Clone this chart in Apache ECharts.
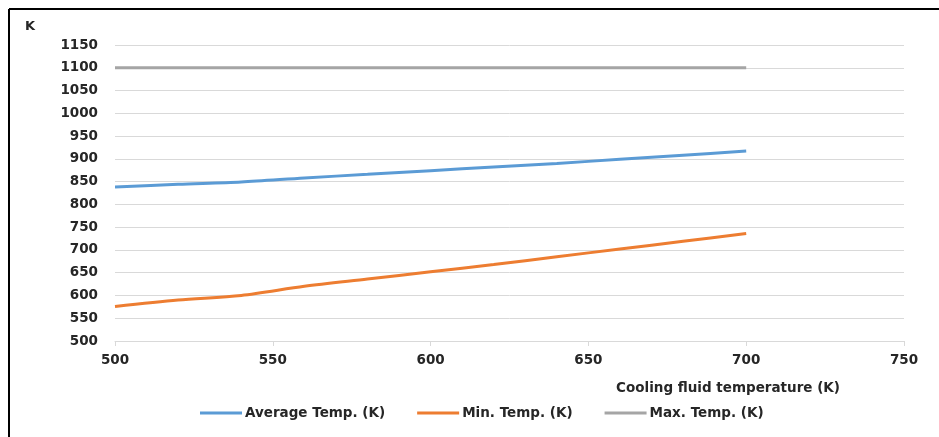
<!DOCTYPE html>
<html>
<head>
<meta charset="utf-8">
<script src="https://cdn.jsdelivr.net/npm/echarts@6/dist/echarts.min.js"></script>
<style>
html,body{margin:0;padding:0;background:#fff;}
#chart{width:939px;height:437px;}
</style>
</head>
<body>
<div id="chart"></div>
<script>
const xValues = [500, 520, 540, 560, 580, 600, 620, 640, 660, 680, 700];
const averageTemp = [838, 844, 849, 858, 866, 874, 882, 890, 899, 908, 917];
const minTemp = [576, 590, 600, 620, 636, 652, 668, 685, 702, 719, 736];
const maxTemp = [1100, 1100, 1100, 1100, 1100, 1100, 1100, 1100, 1100, 1100, 1100];
const seriesNames = ['Average Temp. (K)', 'Min. Temp. (K)', 'Max. Temp. (K)'];
const xAxisTitle = 'Cooling fluid temperature (K)';
const yAxisTitle = 'K';

const pair = arr => xValues.map((x, i) => [x, arr[i]]);
const font = 'DejaVu Sans';
const txt = '#262626';

const chart = echarts.init(document.getElementById('chart'), null, {renderer: 'canvas'});
chart.setOption({
  animation: false,
  backgroundColor: '#fff',
  grid: {left: 115, right: 35, top: 45, bottom: 96},
  graphic: [
    {type: 'line', shape: {x1: 9, y1: 9, x2: 939, y2: 9}, style: {stroke: '#000', lineWidth: 2}},
    {type: 'line', shape: {x1: 9, y1: 9, x2: 9, y2: 437}, style: {stroke: '#000', lineWidth: 2}},
    {type: 'text', left: 25, top: 20, style: {text: yAxisTitle, font: 'bold 13px "DejaVu Sans"', fill: txt}}
  ],
  legend: {
    data: seriesNames,
    bottom: 12,
    left: 195,
    itemWidth: 42,
    itemHeight: 3,
    itemGap: 32,
    icon: 'rect',
    textStyle: {fontFamily: font, fontWeight: 'bold', fontSize: 13.5, color: txt, padding: [0, 0, 0, -2]}
  },
  xAxis: {
    type: 'value',
    min: 500, max: 750, interval: 50,
    name: xAxisTitle,
    nameLocation: 'end',
    nameGap: 0,
    nameTextStyle: {fontFamily: font, fontWeight: 'bold', fontSize: 13.5, color: txt, align: 'right', verticalAlign: 'top', padding: [40, 64, 0, 0]},
    axisLine: {show: true, lineStyle: {color: '#d9d9d9', width: 1}},
    axisTick: {show: true, length: 5, lineStyle: {color: '#d9d9d9'}},
    axisLabel: {fontFamily: font, fontWeight: 'bold', fontSize: 13.5, color: txt, margin: 12},
    splitLine: {show: false}
  },
  yAxis: {
    type: 'value',
    min: 500, max: 1150, interval: 50,
    axisLine: {show: false},
    axisTick: {show: false},
    axisLabel: {fontFamily: font, fontWeight: 'bold', fontSize: 13.5, color: txt, margin: 17, formatter: v => String(v)},
    splitLine: {lineStyle: {color: '#d9d9d9', width: 1}}
  },
  series: [
    {name: seriesNames[0], type: 'line', data: pair(averageTemp), smooth: 0.3, showSymbol: false, symbol: 'none', color: '#5B9BD5', lineStyle: {width: 3}},
    {name: seriesNames[1], type: 'line', data: pair(minTemp), smooth: 0.3, showSymbol: false, symbol: 'none', color: '#ED7D31', lineStyle: {width: 3}},
    {name: seriesNames[2], type: 'line', data: pair(maxTemp), smooth: 0.3, showSymbol: false, symbol: 'none', color: '#A5A5A5', lineStyle: {width: 3}}
  ]
});
</script>
</body>
</html>
